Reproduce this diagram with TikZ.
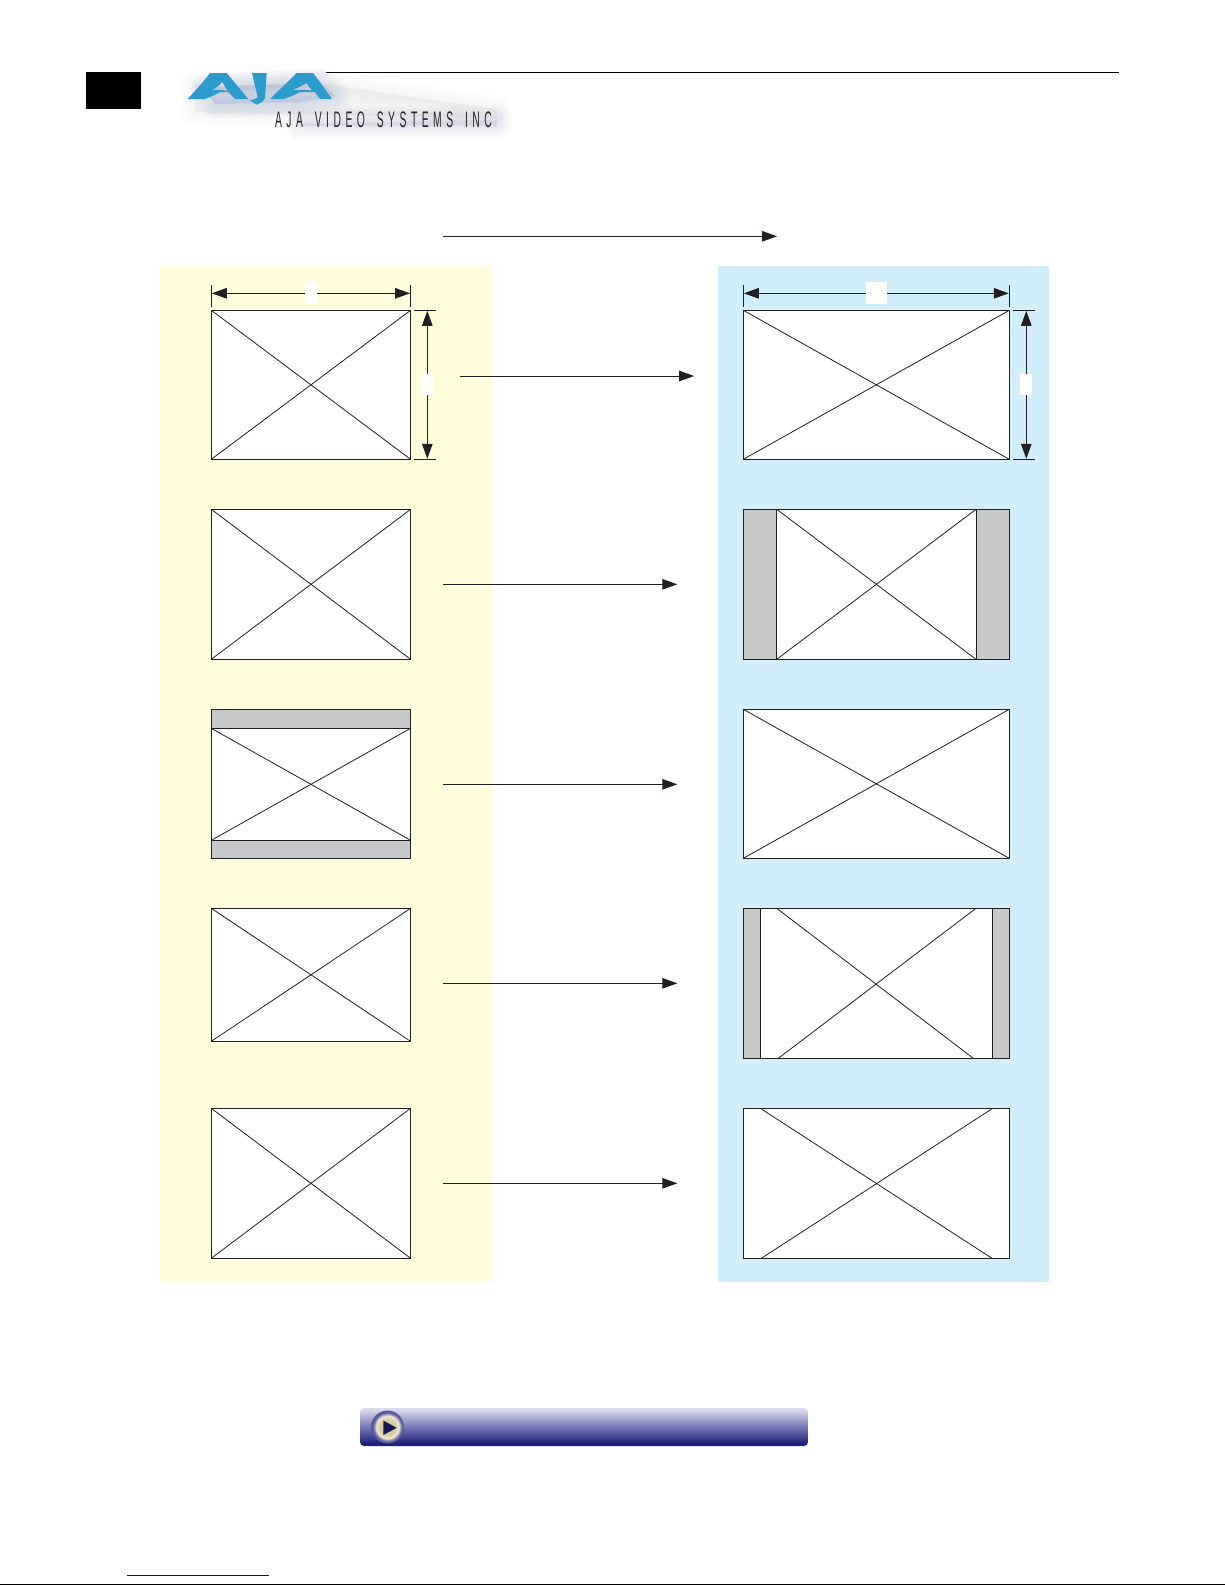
\documentclass[tikz,border=0pt]{standalone}
\usepackage{fontspec}
\usetikzlibrary{arrows.meta,calc}
\newfontfamily\logofont[FakeStretch=0.46,LetterSpace=20,WordSpace=1.6]{Liberation Sans}
\definecolor{ink}{HTML}{231F20}
\definecolor{panelY}{HTML}{FFFCDC}
\definecolor{panelB}{HTML}{D2EEFB}
\definecolor{barGray}{HTML}{C7C8CA}
\definecolor{ajaBlue}{HTML}{2C9BCE}
\definecolor{ajaGlow}{HTML}{8FA4CE}
\definecolor{ajaHaze}{HTML}{BDBAD6}
\definecolor{linkBlue}{HTML}{0000E0}
\definecolor{btnA}{HTML}{DADAEC}
\definecolor{btnB}{HTML}{7676B4}
\definecolor{btnC}{HTML}{1E1E7C}
\definecolor{ballA}{HTML}{D5CCA4}
\definecolor{ballB}{HTML}{EFE9CF}
\definecolor{ballC}{HTML}{5A5AA0}
\pgfdeclareverticalshading{btnshade}{100bp}{color(0bp)=(btnC); color(28bp)=(btnC); color(50bp)=(btnB); color(73bp)=(btnA); color(100bp)=(btnA)}
\pgfdeclareradialshading{ballshade}{\pgfpoint{0bp}{0bp}}{color(0bp)=(ballA); color(12bp)=(ballA); color(17bp)=(ballB); color(22bp)=(ballC); color(25bp)=(ballC); color(50bp)=(ballC)}
\tikzset{
  screen/.style={draw=ink,line width=1pt,fill=white,inner sep=0pt,outer sep=0pt,anchor=north west},
  barred/.style={screen,fill=barGray},
  diag/.style={draw=ink,line width=0.8pt},
  flow/.style={draw=ink,line width=1pt,-{Triangle[length=15pt,width=10.5pt,fill=ink]}},
  dimen/.style={draw=ink,line width=1pt,{Triangle[length=15pt,width=10.5pt,fill=ink]}-{Triangle[length=15pt,width=10.5pt,fill=ink]}},
  ticks/.style={draw=ink,line width=1pt},
  tag/.style={fill=white,inner sep=0pt,outer sep=0pt},
  panel/.style={inner sep=0pt,outer sep=0pt,anchor=north west,minimum height=1016pt}
}
\newcommand{\softlayers}[3]{%
  \foreach \w in {30,27,24,21,18,15,12,9,6,3}{%
    \path[fill=#1,draw=#1,line width=\w pt,line join=round,opacity=#2] #3;%
  }%
}
\begin{document}
\begin{tikzpicture}[x=1pt,y=-1pt]
\useasboundingbox (0,0) rectangle (1225,1585);
\fill[white] (0,0) rectangle (1225,1585);

% header logo haze
\softlayers{ajaHaze}{0.010}{(195,85) -- (330,85) -- (497,110) -- (497,118) -- (195,112) -- cycle}
\softlayers{ajaHaze}{0.028}{(300,124) -- (497,120) -- (497,125) -- (300,126) -- cycle}
\softlayers{ajaGlow}{0.028}{(205,88) -- (320,82) -- (335,96) -- (300,102) -- (215,104) -- cycle}

% header
\node[fill=black,inner sep=0pt,outer sep=0pt,anchor=north west,minimum width=55pt,minimum height=37pt] (tab) at (86,72) {};
\coordinate (ruleL) at (326,72.5);
\coordinate (ruleR) at (1119,72.5);
\draw[black,line width=1pt] (ruleL) -- (ruleR);

% AJA lettering
\fill[ajaBlue,even odd rule]
  (187.7,99) .. controls (196,90) and (204,81) .. (210,73) -- (226.7,73)
  -- (248.3,99) -- (235,99) -- (228.3,92) -- (220,92) .. controls (215,95) and (210,97) .. (205,99) -- cycle
  (211.7,90.3) .. controls (216,88) and (220,85) .. (222.3,82) -- (227.7,91) .. controls (222,89.5) and (216,89.5) .. (211.7,90.3) -- cycle;
\fill[ajaBlue]
  (252,73) -- (266.7,73) -- (265,98) .. controls (264.5,101) and (260,103) .. (256.7,104.7)
  -- (250,100.3) .. controls (253,100) and (255.5,99) .. (257.7,97.3) -- cycle;
\fill[ajaBlue,even odd rule]
  (270,99) .. controls (279,90) and (289,81) .. (296.7,73) -- (313.3,73)
  -- (332,99) -- (320,99) -- (315,92) -- (300,92) .. controls (295,95) and (289,97) .. (284,99) -- cycle
  (291.7,90.5) .. controls (297,88) and (303,85.5) .. (306.7,83) -- (311.7,90.7) .. controls (305,89.5) and (298,89.5) .. (291.7,90.5) -- cycle;
\node[inner sep=0pt,outer sep=0pt,anchor=base west,font=\logofont\fontsize{22.5}{22.5}\selectfont,text=black!85] (company) at (275,127) {AJA VIDEO SYSTEMS INC};

% panels
\node[panel,fill=panelY,minimum width=332pt] (panelL) at (160,266) {};
\node[panel,fill=panelB,minimum width=331pt] (panelR) at (718,266) {};

% top arrow
\coordinate (topS) at (443,236.3);
\coordinate (topE) at (777,236.3);
\draw[flow] (topS) -- (topE);

% left screens
\node[screen,minimum width=199.3pt,minimum height=149pt] (L1) at (211.3,310.3) {};
\node[screen,minimum width=199.3pt,minimum height=150pt] (L2) at (211.3,509.3) {};
\node[barred,minimum width=199.3pt,minimum height=149pt] (L3) at (211.3,709.3) {};
\node[screen,minimum width=199.3pt,minimum height=112pt] (L3i) at (211.3,728.3) {};
\node[screen,minimum width=199.3pt,minimum height=133pt] (L4) at (211.3,908.3) {};
\node[screen,minimum width=199.3pt,minimum height=150pt] (L5) at (211.3,1108.3) {};
\foreach \n in {L1,L2,L3i,L4,L5}{
  \draw[diag] (\n.north west) -- (\n.south east);
  \draw[diag] (\n.north east) -- (\n.south west);
}

% right screens
\node[screen,minimum width=266pt,minimum height=149pt] (R1) at (743.3,310.3) {};
\node[barred,minimum width=266pt,minimum height=150pt] (R2) at (743.3,509.3) {};
\node[screen,minimum width=199.3pt,minimum height=150pt] (R2i) at (776.7,509.3) {};
\node[screen,minimum width=266pt,minimum height=149pt] (R3) at (743.3,709.3) {};
\node[barred,minimum width=266pt,minimum height=150pt] (R4) at (743.3,908.3) {};
\node[screen,minimum width=232pt,minimum height=150pt] (R4i) at (760.3,908.3) {};
\node[screen,minimum width=266pt,minimum height=150pt] (R5) at (743.3,1108.3) {};
\foreach \n in {R1,R2i,R3}{
  \draw[diag] (\n.north west) -- (\n.south east);
  \draw[diag] (\n.north east) -- (\n.south west);
}
\draw[diag] ([xshift=16.4pt]R4i.north west) -- ([xshift=-19pt]R4i.south east);
\draw[diag] ([xshift=-16.3pt]R4i.north east) -- ([xshift=18pt]R4i.south west);
\draw[diag] ([xshift=17pt]R5.north west) -- ([xshift=-17.3pt]R5.south east);
\draw[diag] ([xshift=-16.6pt]R5.north east) -- ([xshift=18pt]R5.south west);

% row arrows
\coordinate (a1) at (460,376);     \coordinate (b1) at (694,376);
\coordinate (a2) at (443,584.3);   \coordinate (b2) at (677.3,584.3);
\coordinate (a3) at (443,784.3);   \coordinate (b3) at (677.3,784.3);
\coordinate (a4) at (443,983.3);   \coordinate (b4) at (677.3,983.3);
\coordinate (a5) at (443,1183.3);  \coordinate (b5) at (677.3,1183.3);
\foreach \i in {1,...,5}{\draw[flow] (a\i) -- (b\i);}

% dimensions, left
\draw[ticks] (211.3,285) -- (211.3,306.7);
\draw[ticks] (410.6,285) -- (410.6,306.7);
\coordinate (dLa) at (211.8,293.3);
\coordinate (dLb) at (410.1,293.3);
\draw[dimen] (dLa) -- (dLb);
\node[tag,minimum width=11.7pt,minimum height=22pt] (dLt) at (311.2,293) {};
\draw[ticks] (414,310.3) -- (436,310.3);
\draw[ticks] (414,459.3) -- (436,459.3);
\coordinate (vLa) at (427.3,310.8);
\coordinate (vLb) at (427.3,458.8);
\draw[dimen] (vLa) -- (vLb);
\node[tag,minimum width=12pt,minimum height=21pt] (vLt) at (427,384.5) {};

% dimensions, right
\draw[ticks] (743.3,285) -- (743.3,306.7);
\draw[ticks] (1009.3,285) -- (1009.3,306.7);
\coordinate (dRa) at (743.8,293.3);
\coordinate (dRb) at (1008.8,293.3);
\draw[dimen] (dRa) -- (dRb);
\node[tag,minimum width=21pt,minimum height=22pt] (dRt) at (876.5,293) {};
\draw[ticks] (1013.3,310.3) -- (1035,310.3);
\draw[ticks] (1013.3,459.3) -- (1035,459.3);
\coordinate (vRa) at (1026.3,310.8);
\coordinate (vRb) at (1026.3,458.8);
\draw[dimen] (vRa) -- (vRb);
\node[tag,minimum width=12pt,minimum height=21pt] (vRt) at (1026,384.5) {};

% button
\path[rounded corners=4pt,shading=btnshade] (360,1408) rectangle (808,1446);
\shade[shading=ballshade] (387.5,1427) circle (16.5);
\fill[btnC!70!black] (383.3,1420.5) -- (396.7,1427.8) -- (383.3,1435) -- cycle;

% footer
\coordinate (linkL) at (127,1575.3);
\coordinate (linkR) at (268.7,1575.3);
\draw[linkBlue,line width=1.1pt] (linkL) -- (linkR);
\coordinate (footL) at (0,1584);
\coordinate (footR) at (1225,1584);
\draw[black,line width=1pt] (footL) -- (footR);
\end{tikzpicture}
\end{document}
